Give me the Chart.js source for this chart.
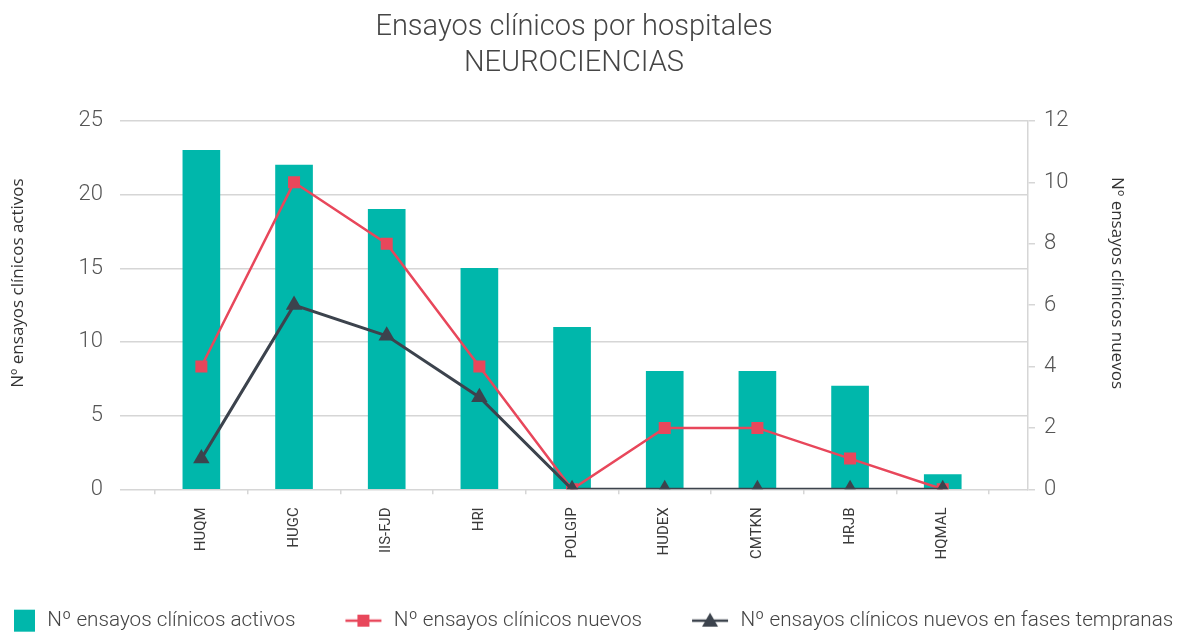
<!DOCTYPE html>
<html>
<head>
<meta charset="utf-8">
<script src="https://cdn.jsdelivr.net/npm/chart.js@4"></script>
<style>
  html, body { margin: 0; padding: 0; background: #fff; }
  #wrap { width: 1180px; height: 632px; position: relative; }
</style>
</head>
<body>
<div id="wrap"><canvas id="chart"></canvas></div>
<script>
const hospitals = ['HUQM', 'HUGC', 'IIS-FJD', 'HRI', 'POLGIP', 'HUDEX', 'CMTKN', 'HRJB', 'HQMAL'];
const activos = [23, 22, 19, 15, 11, 8, 8, 7, 1];
const nuevos = [4, 10, 8, 4, 0, 2, 2, 1, 0];
const tempranas = [1, 6, 5, 3, 0, 0, 0, 0, 0];

const TEAL = '#00b7ab';
const RED = '#e8475b';
const DARK = '#3c434d';
const GRID = '#d6d6d6';

// legend swatches: box for the bars, line + marker for the lines
function barSwatch() {
  const c = document.createElement('canvas');
  c.width = 40; c.height = 24;
  const g = c.getContext('2d');
  g.fillStyle = TEAL;
  g.fillRect(17, 1, 21, 22);
  return c;
}
function lineSwatch(color, marker) {
  const c = document.createElement('canvas');
  c.width = 40; c.height = 20;
  const g = c.getContext('2d');
  g.strokeStyle = color;
  g.lineWidth = 2.5;
  g.beginPath(); g.moveTo(2, 10); g.lineTo(38, 10); g.stroke();
  g.fillStyle = color;
  if (marker === 'rect') {
    g.fillRect(14, 4, 12, 12);
  } else {
    g.beginPath(); g.moveTo(20, 2); g.lineTo(28, 16); g.lineTo(12, 16); g.closePath(); g.fill();
  }
  return c;
}
const swatches = [barSwatch(), lineSwatch(RED, 'rect'), lineSwatch(DARK, 'tri')];

const pts = arr => arr.map((v, i) => ({ x: i, y: v }));

const tickFont = { family: 'Roboto', size: 22, weight: '300' };

new Chart(document.getElementById('chart'), {
  data: {
    datasets: [
      {
        type: 'bar',
        label: 'Nº ensayos clínicos activos',
        data: pts(activos),
        backgroundColor: TEAL,
        barThickness: 37,
        yAxisID: 'y',
        order: 3
      },
      {
        type: 'line',
        label: 'Nº ensayos clínicos nuevos',
        data: pts(nuevos),
        borderColor: RED,
        backgroundColor: RED,
        borderWidth: 2.5,
        pointStyle: 'rect',
        pointRadius: 8.5,
        pointBorderWidth: 0,
        yAxisID: 'y1',
        order: 2
      },
      {
        type: 'line',
        label: 'Nº ensayos clínicos nuevos en fases tempranas',
        data: pts(tempranas),
        borderColor: DARK,
        backgroundColor: DARK,
        borderWidth: 3,
        pointStyle: 'triangle',
        pointRadius: 9.5,
        pointBorderWidth: 0,
        yAxisID: 'y1',
        order: 1
      }
    ]
  },
  options: {
    responsive: true,
    maintainAspectRatio: false,
    animation: false,
    layout: { padding: { left: -51, right: -80, top: 0, bottom: -9 } },
    plugins: {
      tooltip: { enabled: false },
      title: {
        display: true,
        fullSize: false,
        text: ['Ensayos clínicos por hospitales', 'NEUROCIENCIAS'],
        color: '#454545',
        font: { family: 'Roboto', size: 29, weight: '300', lineHeight: 1.24 },
        padding: { top: 10, bottom: 39 }
      },
      legend: {
        position: 'bottom',
        align: 'start',
        labels: {
          usePointStyle: true,
          pointStyleWidth: 40,
          padding: 48,
          color: '#444',
          font: { family: 'Roboto', size: 20.7, weight: '300' },
          generateLabels: chart => chart.data.datasets.map((ds, i) => ({
            text: ds.label,
            pointStyle: swatches[i],
            fillStyle: ds.backgroundColor,
            strokeStyle: ds.backgroundColor,
            lineWidth: 0,
            fontColor: '#444',
            datasetIndex: i
          }))
        }
      }
    },
    scales: {
      x: {
        type: 'linear',
        offset: false,
        min: -0.878,
        max: 8.92,
        afterBuildTicks: axis => { axis.ticks = hospitals.map((h, i) => ({ value: i })); },
        afterFit: axis => { axis.height = 73; },
        grid: { drawOnChartArea: false, offset: true, tickLength: 5, color: GRID, lineWidth: 1.5 },
        border: { display: false },
        ticks: {
          autoSkip: false,
          minRotation: 90,
          maxRotation: 90,
          padding: 13,
          color: '#3a3a3a',
          font: { family: 'Roboto', size: 15 },
          callback: v => hospitals[v]
        }
      },
      y: {
        position: 'left',
        min: 0,
        max: 25,
        afterFit: axis => { axis.width = 171; },
        ticks: { stepSize: 5, padding: 17, color: '#555', font: tickFont },
        grid: { drawTicks: false, color: GRID, lineWidth: 1.5 },
        border: { display: false },
        title: {
          display: true,
          text: '          Nº ensayos clínicos activos',
          color: '#333',
          font: { family: 'Open Sans', size: 17 },
          padding: { top: 59, bottom: 0 }
        }
      },
      y1: {
        position: 'right',
        min: 0,
        max: 12,
        afterFit: axis => { axis.width = 232; },
        ticks: { stepSize: 2, padding: 9, color: '#555', font: tickFont },
        grid: { drawOnChartArea: false, tickLength: 7, color: GRID, lineWidth: 1.5 },
        border: { display: true, color: GRID, width: 1.5 },
        title: {
          display: true,
          text: 'Nº ensayos clínicos nuevos          ',
          color: '#333',
          font: { family: 'Open Sans', size: 17 },
          padding: { top: 133, bottom: 0 }
        }
      }
    }
  }
});
</script>
</body>
</html>
